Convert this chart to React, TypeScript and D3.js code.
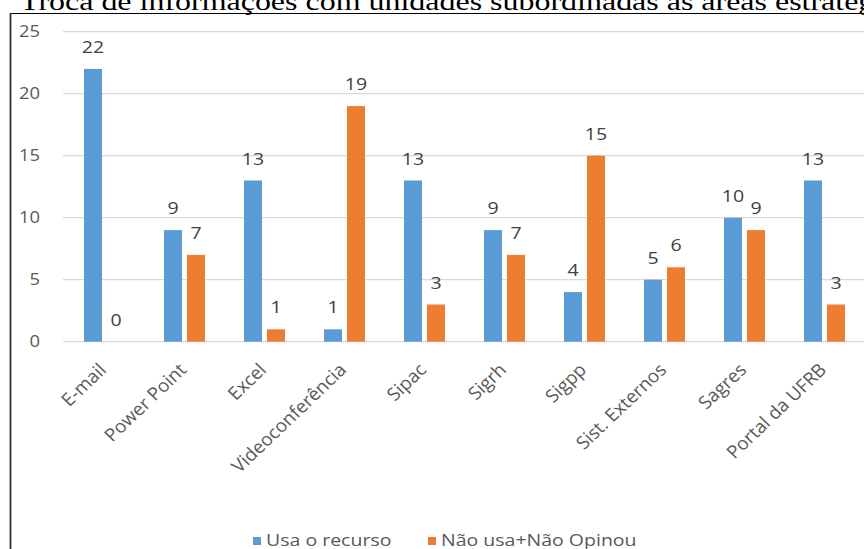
import React from "react";
import * as d3 from "d3";

const categories = ["E-mail", "Power Point", "Excel", "Videoconferência", "Sipac", "Sigrh", "Sigpp", "Sist. Externos", "Sagres", "Portal da UFRB"];
const usa = [22, 9, 13, 1, 13, 9, 4, 5, 10, 13];
const naoUsa = [0, 7, 1, 19, 3, 7, 15, 6, 9, 3];
const seriesNames = ["Usa o recurso", "Não usa+Não Opinou"];
const seriesColors = ["#5b9bd5", "#ed7d31"];
const yTicks = [0, 5, 10, 15, 20, 25];
const title = "Troca de informações com unidades subordinadas às áreas estratégicas";

const W = 864;
const H = 549;
const FONT = "'Open Sans', sans-serif";

export default function App() {
  const x = d3.scaleBand<string>().domain(categories).range([64.5, 864.5]).padding(0);
  const xs = d3.scaleBand<string>().domain(seriesNames).range([0, x.bandwidth()]).paddingInner(5 / 23).paddingOuter(0.848);
  const y = d3.scaleLinear().domain([0, 25]).range([341.7, 31.7]);
  const series = [usa, naoUsa];

  return (
    <svg width={W} height={H} style={{ position: "absolute", left: 0, top: 0, background: "#fff" }}>
      <text transform="translate(20,10) scale(1.23,1)" fontFamily="'Liberation Serif', 'Times New Roman', serif" fontSize={26} fill="#000">
        {title}
      </text>
      <line x1={10} y1={13.5} x2={W} y2={13.5} stroke="#000" strokeWidth={1.2} />
      <line x1={10.5} y1={13} x2={10.5} y2={H} stroke="#333" strokeWidth={1.8} />

      {yTicks.map((t) => (
        <g key={t}>
          <line x1={63} x2={W} y1={y(t)} y2={y(t)} stroke="#d9d9d9" strokeWidth={1.2} />
          <text transform={`translate(40,${y(t)}) scale(1.15,1)`} textAnchor="end" dy="0.35em" fontFamily={FONT} fontSize={16} fill="#595959">
            {t}
          </text>
        </g>
      ))}

      {categories.map((c, i) => (
        <g key={c}>
          {series.map((vals, si) => {
            const bx = (x(c) as number) + (xs(seriesNames[si]) as number);
            const bw = xs.bandwidth();
            const v = vals[i];
            return (
              <g key={si}>
                <rect x={bx} y={y(v)} width={bw} height={y(0) - y(v)} fill={seriesColors[si]} />
                <text transform={`translate(${bx + bw / 2},${y(v) - 16}) scale(1.15,1)`} textAnchor="middle" fontFamily={FONT} fontSize={17} fill="#404040">
                  {v}
                </text>
              </g>
            );
          })}
          <text
            transform={`translate(${(x(c) as number) + x.bandwidth() / 2 + 3},${371}) scale(1.05,1) rotate(-45)`}
            textAnchor="end"
            fontFamily={FONT}
            fontSize={18}
            fill="#595959"
          >
            {c}
          </text>
        </g>
      ))}

      {seriesNames.map((s, i) => {
        const lx = [253, 428][i];
        return (
          <g key={s}>
            <rect x={lx} y={537} width={8} height={8} fill={seriesColors[i]} />
            <text transform={`translate(${lx + 13},546) scale(1.22,1)`} fontFamily={FONT} fontSize={16} fill="#595959">
              {s}
            </text>
          </g>
        );
      })}
    </svg>
  );
}
